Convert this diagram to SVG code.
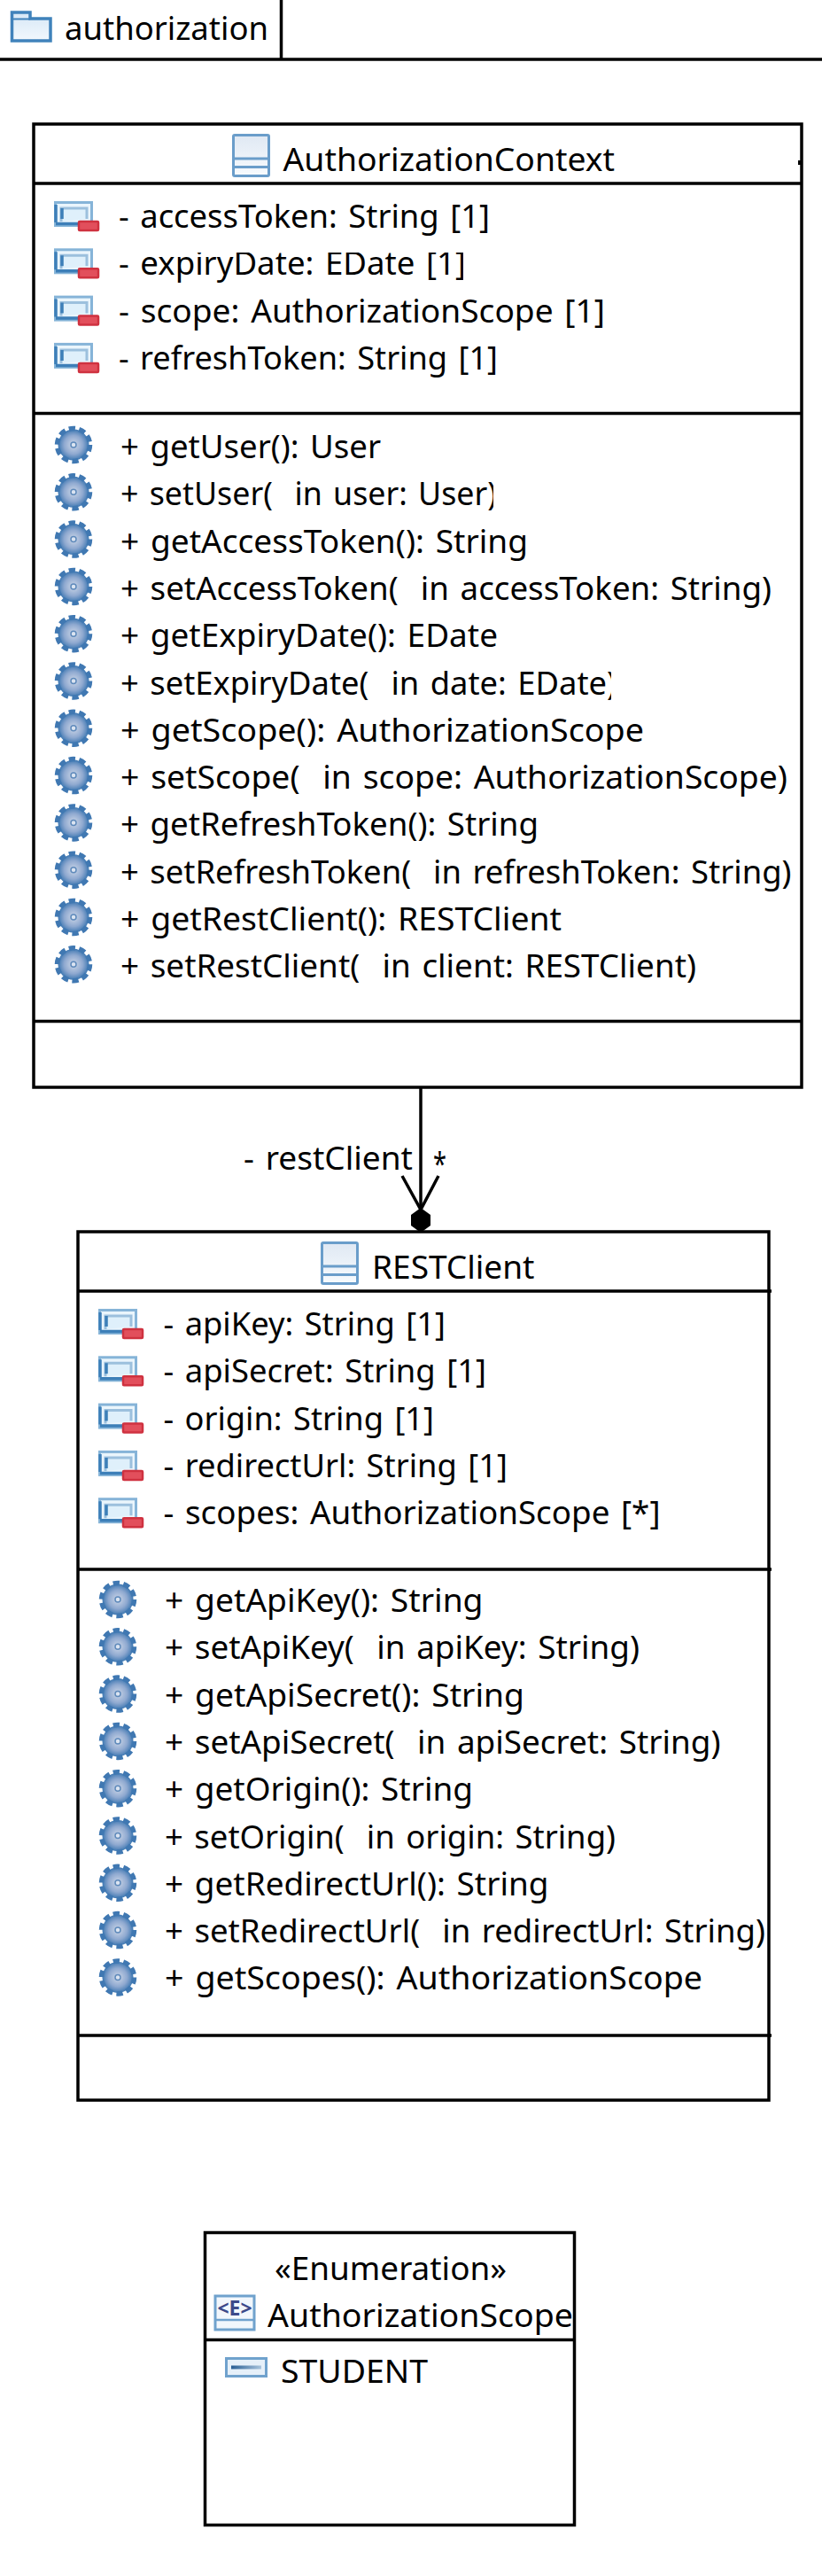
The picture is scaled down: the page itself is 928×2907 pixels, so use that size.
<svg xmlns="http://www.w3.org/2000/svg" width="928" height="2907" viewBox="0 0 928 2907">
<style>
text{font-family:"Noto Sans","Open Sans","Liberation Sans",sans-serif;font-size:36px;fill:#000;white-space:pre;word-spacing:3px}
.box{fill:#fff;stroke:#000;stroke-width:3.5}
.sep{stroke:#000;stroke-width:3.5;fill:none}
.con{stroke:#000;stroke-width:3.5;fill:none}
</style>
<defs>
<filter id="soft" x="-10%" y="-10%" width="120%" height="120%"><feGaussianBlur stdDeviation="0.6"/></filter>
<linearGradient id="cg" x1="0" y1="0" x2="0" y2="1"><stop offset="0" stop-color="#dfe8f3"/><stop offset="1" stop-color="#f8fbfe"/></linearGradient>
<linearGradient id="fg" x1="0" y1="0" x2="0" y2="1"><stop offset="0" stop-color="#d6e7f6"/><stop offset="1" stop-color="#f2f8fd"/></linearGradient>
<linearGradient id="lg" x1="0" y1="0" x2="1" y2="0"><stop offset="0" stop-color="#2a5f94"/><stop offset="1" stop-color="#a9c4dd"/></linearGradient>
<radialGradient id="gg"><stop offset="0" stop-color="#cdd7e8"/><stop offset="0.6" stop-color="#8fa9d0"/><stop offset="1" stop-color="#3f78b2"/></radialGradient>
<clipPath id="c1"><rect x="0" y="285" width="523" height="40"/></clipPath>
<clipPath id="c2"><rect x="0" y="535" width="557" height="50"/></clipPath>
<clipPath id="c3"><rect x="0" y="745" width="690" height="50"/></clipPath>
<g id="attr" filter="url(#soft)">
<rect x="1.500" y="1.500" width="41" height="26" fill="#eaf5fc" stroke="#86b4d8" stroke-width="3"/>
<path d="M8 23V8H37V20" fill="#dff0fb" stroke="#9cc0dd" stroke-width="3"/>
<path d="M2 24V4M2 25.500H27M9 20V8" fill="none" stroke="#3d7fb8" stroke-width="3.500"/>
<rect x="28" y="23" width="22" height="10" rx="1" fill="#e2505c" stroke="#cf3040" stroke-width="2.500"/>
</g>
<g id="op" filter="url(#soft)">
<circle cx="22" cy="22" r="17.500" fill="url(#gg)"/>
<circle cx="22" cy="22" r="18.500" fill="none" stroke="#3f78b2" stroke-width="5.500" stroke-dasharray="7.270 4.350"/>
<circle cx="22" cy="22" r="3" fill="#dbe4f1" stroke="#5f8abb" stroke-width="1.500"/>
</g>
<g id="cls" filter="url(#soft)">
<rect x="1.500" y="1.500" width="40" height="46" rx="1.500" fill="url(#cg)" stroke="#6a9dca" stroke-width="3"/>
<path d="M2 28H41M2 37.500H41" stroke="#6a9dca" stroke-width="3" fill="none"/>
</g>
</defs>
<rect width="928" height="2907" fill="#fff"/>

<g id="package-authorization">
<path class="sep" d="M317.500 0V67M0 67H928"/>
<g filter="url(#soft)">
<path d="M13.500 46V14H34V21H57V46Z" fill="url(#fg)" stroke="#3f82bb" stroke-width="3.500"/>
<path d="M14 21.500H34" stroke="#3f82bb" stroke-width="2"/>
</g>
<text x="73" y="45" textLength="230" lengthAdjust="spacingAndGlyphs">authorization</text>
</g>

<g id="connectors">
<path class="con" d="M475 1228V1366"/>
<path class="con" d="M454 1327L475 1365L495 1327"/>
<path d="M475 1363L486 1371V1383L475 1391L464 1383V1371Z" fill="#000"/>
<text x="275" y="1320" textLength="191" lengthAdjust="spacingAndGlyphs">- restClient</text>
<text x="489" y="1326" textLength="15" lengthAdjust="spacingAndGlyphs">*</text>
</g>

<g id="node-AuthorizationContext">
<rect class="box" x="38" y="140" width="867" height="1087"/>
<path class="sep" d="M38 207H905M38 466.500H905M38 1152.500H905"/>
<rect x="901" y="181" width="5" height="5" fill="#000"/>
<use href="#cls" x="262" y="151"/>
<text x="319.500" y="193" textLength="374.500" lengthAdjust="spacingAndGlyphs">AuthorizationContext</text>
<use href="#attr" x="61" y="227"/><use href="#attr" x="61" y="280.300"/><use href="#attr" x="61" y="333.600"/><use href="#attr" x="61" y="386.900"/>
<text x="134" y="257" textLength="419" lengthAdjust="spacingAndGlyphs">- accessToken: String [1]</text>
<text x="134" y="310" textLength="392" lengthAdjust="spacingAndGlyphs" clip-path="url(#c1)">- expiryDate: EDate [1]</text>
<text x="134" y="363.500" textLength="549" lengthAdjust="spacingAndGlyphs">- scope: AuthorizationScope [1]</text>
<text x="134" y="417" textLength="428" lengthAdjust="spacingAndGlyphs">- refreshToken: String [1]</text>
<use href="#op" x="61" y="480"/><use href="#op" x="61" y="533.300"/><use href="#op" x="61" y="586.600"/><use href="#op" x="61" y="639.900"/><use href="#op" x="61" y="693.200"/><use href="#op" x="61" y="746.500"/><use href="#op" x="61" y="799.800"/><use href="#op" x="61" y="853.100"/><use href="#op" x="61" y="906.400"/><use href="#op" x="61" y="959.700"/><use href="#op" x="61" y="1013"/><use href="#op" x="61" y="1066.300"/>
<text x="136" y="517" textLength="294" lengthAdjust="spacingAndGlyphs">+ getUser(): User</text>
<text x="136" y="570.300" textLength="425" lengthAdjust="spacingAndGlyphs" clip-path="url(#c2)">+ setUser(  in user: User)</text>
<text x="136" y="623.600" textLength="460" lengthAdjust="spacingAndGlyphs">+ getAccessToken(): String</text>
<text x="136" y="676.900" textLength="735" lengthAdjust="spacingAndGlyphs">+ setAccessToken(  in accessToken: String)</text>
<text x="136" y="730.200" textLength="426" lengthAdjust="spacingAndGlyphs">+ getExpiryDate(): EDate</text>
<text x="136" y="783.500" textLength="560" lengthAdjust="spacingAndGlyphs" clip-path="url(#c3)">+ setExpiryDate(  in date: EDate)</text>
<text x="136" y="836.800" textLength="591" lengthAdjust="spacingAndGlyphs">+ getScope(): AuthorizationScope</text>
<text x="136" y="890.100" textLength="753" lengthAdjust="spacingAndGlyphs">+ setScope(  in scope: AuthorizationScope)</text>
<text x="136" y="943.400" textLength="472" lengthAdjust="spacingAndGlyphs">+ getRefreshToken(): String</text>
<text x="136" y="996.700" textLength="757.500" lengthAdjust="spacingAndGlyphs">+ setRefreshToken(  in refreshToken: String)</text>
<text x="136" y="1050" textLength="498" lengthAdjust="spacingAndGlyphs">+ getRestClient(): RESTClient</text>
<text x="136" y="1103.300" textLength="650" lengthAdjust="spacingAndGlyphs">+ setRestClient(  in client: RESTClient)</text>
</g>

<g id="node-RESTClient">
<rect class="box" x="88" y="1390" width="780" height="980"/>
<path class="sep" d="M88 1457H871M88 1771H871M88 2297H871"/>
<use href="#cls" x="362" y="1401"/>
<text x="420" y="1443" textLength="183.500" lengthAdjust="spacingAndGlyphs">RESTClient</text>
<use href="#attr" x="111" y="1477"/><use href="#attr" x="111" y="1530.300"/><use href="#attr" x="111" y="1583.600"/><use href="#attr" x="111" y="1636.900"/><use href="#attr" x="111" y="1690.200"/>
<text x="184.500" y="1507" textLength="318.500" lengthAdjust="spacingAndGlyphs">- apiKey: String [1]</text>
<text x="184.500" y="1560.300" textLength="364.500" lengthAdjust="spacingAndGlyphs">- apiSecret: String [1]</text>
<text x="184.500" y="1613.600" textLength="305.500" lengthAdjust="spacingAndGlyphs">- origin: String [1]</text>
<text x="184.500" y="1666.900" textLength="388.500" lengthAdjust="spacingAndGlyphs">- redirectUrl: String [1]</text>
<text x="184.500" y="1720.200" textLength="561" lengthAdjust="spacingAndGlyphs">- scopes: AuthorizationScope [*]</text>
<use href="#op" x="111" y="1783"/><use href="#op" x="111" y="1836.300"/><use href="#op" x="111" y="1889.600"/><use href="#op" x="111" y="1942.900"/><use href="#op" x="111" y="1996.200"/><use href="#op" x="111" y="2049.500"/><use href="#op" x="111" y="2102.800"/><use href="#op" x="111" y="2156.100"/><use href="#op" x="111" y="2209.400"/>
<text x="186" y="1819" textLength="359.500" lengthAdjust="spacingAndGlyphs">+ getApiKey(): String</text>
<text x="186" y="1872.300" textLength="536" lengthAdjust="spacingAndGlyphs">+ setApiKey(  in apiKey: String)</text>
<text x="186" y="1925.600" textLength="406" lengthAdjust="spacingAndGlyphs">+ getApiSecret(): String</text>
<text x="186" y="1978.900" textLength="627.500" lengthAdjust="spacingAndGlyphs">+ setApiSecret(  in apiSecret: String)</text>
<text x="186" y="2032.200" textLength="348" lengthAdjust="spacingAndGlyphs">+ getOrigin(): String</text>
<text x="186" y="2085.500" textLength="509" lengthAdjust="spacingAndGlyphs">+ setOrigin(  in origin: String)</text>
<text x="186" y="2138.800" textLength="433.500" lengthAdjust="spacingAndGlyphs">+ getRedirectUrl(): String</text>
<text x="186" y="2192.100" textLength="678" lengthAdjust="spacingAndGlyphs">+ setRedirectUrl(  in redirectUrl: String)</text>
<text x="186" y="2245.400" textLength="607" lengthAdjust="spacingAndGlyphs">+ getScopes(): AuthorizationScope</text>
</g>

<g id="node-AuthorizationScope">
<rect class="box" x="231.500" y="2519.500" width="417" height="330"/>
<path class="sep" d="M231.500 2640.500H648.500"/>
<text x="310" y="2573" textLength="262" lengthAdjust="spacingAndGlyphs">«Enumeration»</text>
<g filter="url(#soft)">
<rect x="243" y="2591" width="44" height="38" fill="#f2f7fc" stroke="#6fa2cd" stroke-width="3"/>
<path d="M243 2618H287" stroke="#6fa2cd" stroke-width="2.500"/>
</g>
<text x="265" y="2613" text-anchor="middle" style="font-size:23px;font-weight:700;fill:#3c4a8a;word-spacing:0">&lt;E&gt;</text>
<text x="302" y="2626" textLength="345" lengthAdjust="spacingAndGlyphs">AuthorizationScope</text>
<g filter="url(#soft)">
<rect x="255.500" y="2661.500" width="45" height="20" fill="#e6f0f9" stroke="#6fa2cd" stroke-width="3"/>
<rect x="261" y="2669.500" width="34" height="4" fill="url(#lg)"/>
</g>
<text x="317" y="2689" textLength="166" lengthAdjust="spacingAndGlyphs">STUDENT</text>
</g>
</svg>
